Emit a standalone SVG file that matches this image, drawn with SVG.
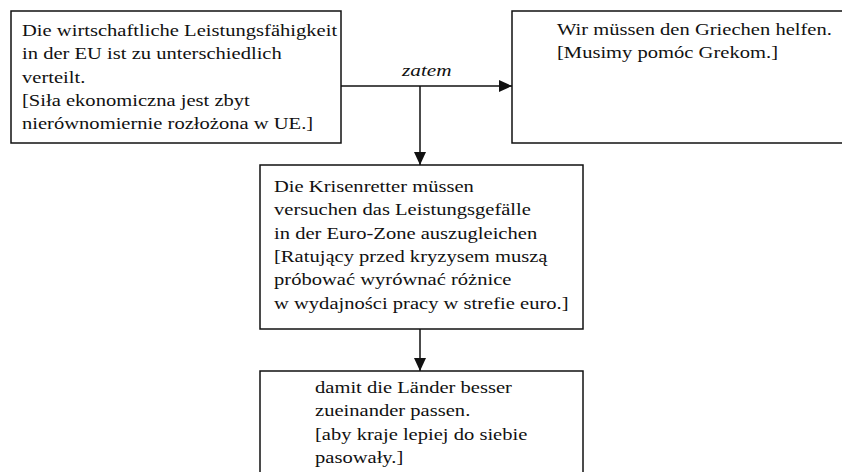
<svg xmlns="http://www.w3.org/2000/svg" width="842" height="472" viewBox="0 0 842 472">
<style>
.box{fill:#fff;stroke:#111;stroke-width:1.5}
.t{font-family:"Liberation Serif","Times New Roman",serif;font-size:17px;fill:#111}
.lbl{font-family:"Liberation Serif","Times New Roman",serif;font-size:17px;font-style:italic;fill:#111}
.ln{stroke:#111;stroke-width:1.5;fill:none}
</style>
<defs>
<marker id="av" markerWidth="13" markerHeight="12" refX="13" refY="6" orient="auto" markerUnits="userSpaceOnUse">
<path d="M0,0 L13,6 L0,12 z" fill="#111"/>
</marker>
</defs>
<rect width="842" height="472" fill="#fff"/>
<g id="connectors">
<line class="ln" x1="341" y1="86" x2="512" y2="86" marker-end="url(#av)"/>
<line class="ln" x1="420" y1="86" x2="420" y2="165" marker-end="url(#av)"/>
<line class="ln" x1="420" y1="329" x2="420" y2="371" marker-end="url(#av)"/>
<g transform="translate(402,0) scale(1.25,1)"><text class="lbl" x="0" y="76">zatem</text></g>
</g>
<g id="n1">
<rect class="box" x="11" y="11" width="330" height="132"/>
<g transform="translate(22,0) scale(1.21,1)">
<text class="t" x="0" y="36">Die wirtschaftliche Leistungsfähigkeit</text>
<text class="t" x="0" y="59.3">in der EU ist zu unterschiedlich</text>
<text class="t" x="0" y="82.6">verteilt.</text>
<text class="t" x="0" y="106">[Siła ekonomiczna jest zbyt</text>
<text class="t" x="0" y="129.3">nierównomiernie rozłożona w UE.]</text>
</g>
</g>
<g id="n2">
<rect class="box" x="512" y="11" width="335" height="132"/>
<g transform="translate(557,0) scale(1.21,1)">
<text class="t" x="0" y="35">Wir müssen den Griechen helfen.</text>
<text class="t" x="0" y="58.3">[Musimy pomóc Grekom.]</text>
</g>
</g>
<g id="n3">
<rect class="box" x="260" y="165" width="323" height="164"/>
<g transform="translate(274,0) scale(1.21,1)">
<text class="t" x="0" y="192">Die Krisenretter müssen</text>
<text class="t" x="0" y="215.3">versuchen das Leistungsgefälle</text>
<text class="t" x="0" y="238.6">in der Euro-Zone auszugleichen</text>
<text class="t" x="0" y="262">[Ratujący przed kryzysem muszą</text>
<text class="t" x="0" y="285.3">próbować wyrównać różnice</text>
<text class="t" x="0" y="308.6">w wydajności pracy w strefie euro.]</text>
</g>
</g>
<g id="n4">
<rect class="box" x="260" y="371" width="323" height="105"/>
<g transform="translate(315,0) scale(1.21,1)">
<text class="t" x="0" y="393">damit die Länder besser</text>
<text class="t" x="0" y="416.3">zueinander passen.</text>
<text class="t" x="0" y="439.6">[aby kraje lepiej do siebie</text>
<text class="t" x="0" y="463">pasowały.]</text>
</g>
</g>
</svg>
